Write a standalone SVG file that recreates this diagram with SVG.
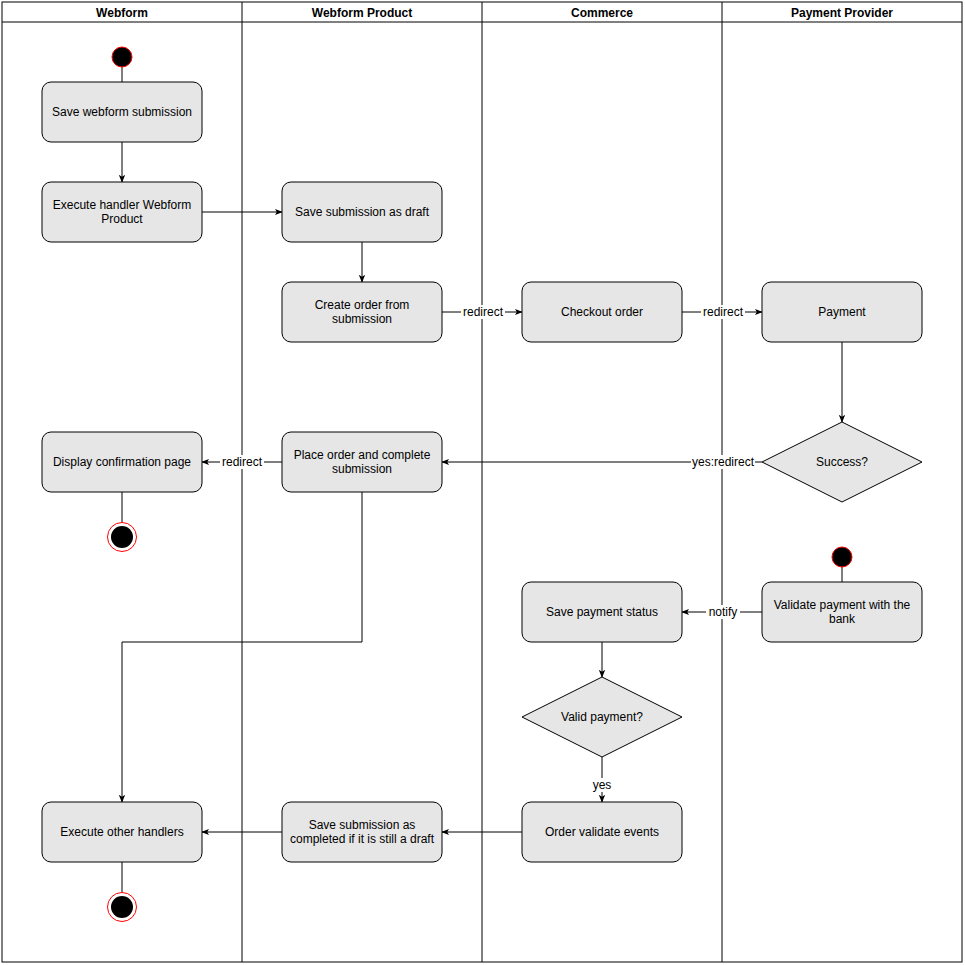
<svg xmlns="http://www.w3.org/2000/svg" width="965" height="965" viewBox="0 0 965 965">
<style>
text{font-family:"Liberation Sans",Arial,sans-serif;font-size:12px;fill:#000;text-anchor:middle}
.h{font-weight:bold}
.n{fill:#e6e6e6;stroke:#000;stroke-width:1}
.c{fill:none;stroke:#000;stroke-width:1}
.lb{fill:#fff}
.s{fill:#000;stroke:#f00;stroke-width:1}
.e{fill:none;stroke:#f00;stroke-width:1}
</style>
<defs><marker id="a" viewBox="0 0 10 10" refX="9" refY="5" markerWidth="8" markerHeight="8" orient="auto" markerUnits="userSpaceOnUse"><path d="M0,1 L10,5 L0,9 L2.5,5 Z" fill="#000"/></marker></defs>
<rect width="965" height="965" fill="#fff"/>
<g id="lanes" fill="none" stroke="#000">
<rect x="2" y="2" width="960" height="960"/>
<line x1="2" y1="22" x2="962" y2="22"/>
<line x1="242" y1="2" x2="242" y2="962"/>
<line x1="482" y1="2" x2="482" y2="962"/>
<line x1="722" y1="2" x2="722" y2="962"/>
</g>
<g id="headers">
<text class="h" x="122" y="17">Webform</text>
<text class="h" x="362" y="17">Webform Product</text>
<text class="h" x="602" y="17">Commerce</text>
<text class="h" x="842" y="17">Payment Provider</text>
</g>
<g id="connectors">
<path class="c" d="M122,67V82"/>
<path class="c" d="M122,142V182" marker-end="url(#a)"/>
<path class="c" d="M202,212H282" marker-end="url(#a)"/>
<path class="c" d="M362,242V282" marker-end="url(#a)"/>
<path class="c" d="M442,312H522" marker-end="url(#a)"/>
<path class="c" d="M682,312H762" marker-end="url(#a)"/>
<path class="c" d="M842,342V422" marker-end="url(#a)"/>
<path class="c" d="M762,462H442" marker-end="url(#a)"/>
<path class="c" d="M282,462H202" marker-end="url(#a)"/>
<path class="c" d="M122,492V522"/>
<path class="c" d="M362,492V642H122V802" marker-end="url(#a)"/>
<path class="c" d="M842,567V582"/>
<path class="c" d="M762,612H682" marker-end="url(#a)"/>
<path class="c" d="M602,642V677" marker-end="url(#a)"/>
<path class="c" d="M602,757V802" marker-end="url(#a)"/>
<path class="c" d="M522,832H442" marker-end="url(#a)"/>
<path class="c" d="M282,832H202" marker-end="url(#a)"/>
<path class="c" d="M122,862V892"/>
<rect class="lb" x="461" y="305" width="44" height="14"/><text x="483" y="316">redirect</text>
<rect class="lb" x="701" y="305" width="44" height="14"/><text x="723" y="316">redirect</text>
<rect class="lb" x="691" y="455" width="64" height="14"/><text x="723" y="466">yes:redirect</text>
<rect class="lb" x="220" y="455" width="44" height="14"/><text x="242" y="466">redirect</text>
<rect class="lb" x="706" y="605" width="34" height="14"/><text x="723" y="616">notify</text>
<rect class="lb" x="591" y="778" width="22" height="14"/><text x="602" y="789">yes</text>
</g>
<g id="start1"><circle class="s" cx="122" cy="57" r="10"/></g>
<g id="n1"><rect class="n" x="42" y="82" width="160" height="60" rx="9"/><text x="122" y="116">Save webform submission</text></g>
<g id="n2"><rect class="n" x="42" y="182" width="160" height="60" rx="9"/><text x="122" y="209">Execute handler Webform</text><text x="122" y="223">Product</text></g>
<g id="n3"><rect class="n" x="282" y="182" width="160" height="60" rx="9"/><text x="362" y="216">Save submission as draft</text></g>
<g id="n4"><rect class="n" x="282" y="282" width="160" height="60" rx="9"/><text x="362" y="309">Create order from</text><text x="362" y="323">submission</text></g>
<g id="n5"><rect class="n" x="522" y="282" width="160" height="60" rx="9"/><text x="602" y="316">Checkout order</text></g>
<g id="n6"><rect class="n" x="762" y="282" width="160" height="60" rx="9"/><text x="842" y="316">Payment</text></g>
<g id="d1"><path class="n" d="M842,422L922,462L842,502L762,462Z"/><text x="842" y="466">Success?</text></g>
<g id="n7"><rect class="n" x="282" y="432" width="160" height="60" rx="9"/><text x="362" y="459">Place order and complete</text><text x="362" y="473">submission</text></g>
<g id="n8"><rect class="n" x="42" y="432" width="160" height="60" rx="9"/><text x="122" y="466">Display confirmation page</text></g>
<g id="end1"><circle class="e" cx="122" cy="537" r="14.5"/><circle cx="122" cy="537" r="11" fill="#000"/></g>
<g id="start2"><circle class="s" cx="842" cy="557" r="10"/></g>
<g id="n9"><rect class="n" x="762" y="582" width="160" height="60" rx="9"/><text x="842" y="609">Validate payment with the</text><text x="842" y="623">bank</text></g>
<g id="n10"><rect class="n" x="522" y="582" width="160" height="60" rx="9"/><text x="602" y="616">Save payment status</text></g>
<g id="d2"><path class="n" d="M602,677L682,717L602,757L522,717Z"/><text x="602" y="721">Valid payment?</text></g>
<g id="n11"><rect class="n" x="522" y="802" width="160" height="60" rx="9"/><text x="602" y="836">Order validate events</text></g>
<g id="n12"><rect class="n" x="282" y="802" width="160" height="60" rx="9"/><text x="362" y="829">Save submission as</text><text x="362" y="843">completed if it is still a draft</text></g>
<g id="n13"><rect class="n" x="42" y="802" width="160" height="60" rx="9"/><text x="122" y="836">Execute other handlers</text></g>
<g id="end2"><circle class="e" cx="122" cy="907" r="14.5"/><circle cx="122" cy="907" r="11" fill="#000"/></g>
</svg>
